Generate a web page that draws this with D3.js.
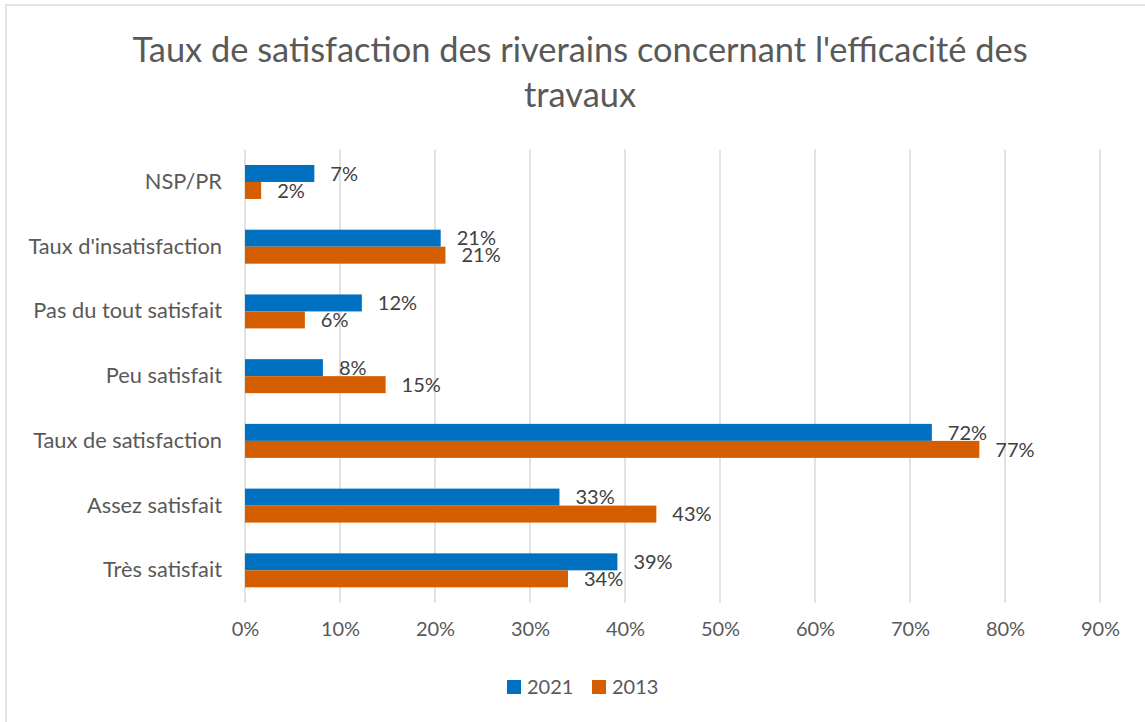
<!DOCTYPE html>
<html><head><meta charset="utf-8">
<script src="https://cdn.jsdelivr.net/npm/d3@7"></script>
<style>
html,body{margin:0;padding:0;background:#fff;}
svg{display:block;font-family:Lato,"Open Sans",sans-serif;}
</style></head>
<body>
<svg id="chart" width="1145" height="722"></svg>
<script>
const categories = ["NSP/PR","Taux d'insatisfaction","Pas du tout satisfait","Peu satisfait","Taux de satisfaction","Assez satisfait","Très satisfait"];
const series = ["2021","2013"];
const values2021 = [7.3, 20.6, 12.3, 8.2, 72.3, 33.1, 39.2];
const values2013 = [1.7, 21.1, 6.3, 14.8, 77.3, 43.3, 34.0];
const xTicks = [0,10,20,30,40,50,60,70,80,90];
const titleLines = ["Taux de satisfaction des riverains concernant l'efficacité des","travaux"];
const colors = {"2021":"#0070C0","2013":"#D55E00"};

(function(){
const svg = d3.select("#chart");
svg.append("rect").attr("x",6).attr("y",5).attr("width",1160).attr("height",740)
  .attr("fill","none").attr("stroke","#D9D9D9").attr("stroke-width",1.5);

const pLeft=245, pRight=1100, pTop=149.6, pBottom=602.7;
const x = d3.scaleLinear().domain([0,90]).range([pLeft,pRight]);
const y = d3.scaleBand().domain(categories).range([pTop,pBottom]).paddingInner(0.475).paddingOuter(0.2375);
const ySub = d3.scaleBand().domain(series).range([0,y.bandwidth()]);

svg.append("g").selectAll("line").data(xTicks).join("line")
  .attr("x1",d=>x(d)).attr("x2",d=>x(d)).attr("y1",pTop).attr("y2",pBottom)
  .attr("stroke","#D9D9D9").attr("stroke-width",1.5);

const xAxis = d3.axisBottom(x).tickValues(xTicks).tickFormat(d=>d+"%").tickSize(0).tickPadding(0);
const gx = svg.append("g").attr("transform",`translate(0,${pBottom+19})`).call(xAxis);
gx.select(".domain").remove();
gx.selectAll("text").attr("font-size",20).attr("fill","#595959").attr("font-family","Lato,sans-serif");

const yAxis = d3.axisLeft(y).tickSize(0).tickPadding(0);
const gy = svg.append("g").attr("transform",`translate(${222},0)`).call(yAxis);
gy.select(".domain").remove();
gy.selectAll("text").attr("font-size",21.8).attr("fill","#595959").attr("font-family","Lato,sans-serif");

const rows = categories.map((c,i)=>({cat:c, vals:[{s:"2021",v:values2021[i]},{s:"2013",v:values2013[i]}]}));
const g = svg.append("g").selectAll("g").data(rows).join("g")
  .attr("transform",d=>`translate(0,${y(d.cat)})`);
g.selectAll("rect").data(d=>d.vals).join("rect")
  .attr("x",x(0)).attr("y",d=>ySub(d.s)).attr("height",ySub.bandwidth())
  .attr("width",d=>x(d.v)-x(0)).attr("fill",d=>colors[d.s]);
g.selectAll("text").data(d=>d.vals).join("text")
  .attr("x",d=>x(d.v)+16).attr("y",d=>ySub(d.s)+ySub.bandwidth()/2)
  .attr("dy","0.36em").attr("font-size",20).attr("fill","#404040")
  .text(d=>Math.round(d.v)+"%");

const title = svg.append("g");
titleLines.forEach((t,i)=>{
  title.append("text").attr("x",580).attr("y",62+i*45).attr("text-anchor","middle")
    .attr("font-size",34.4).attr("fill","#595959").text(t);
});

const legend = svg.append("g").attr("transform","translate(507,680)");
const lx = [0,85];
series.forEach((s,i)=>{
  legend.append("rect").attr("x",lx[i]).attr("y",0).attr("width",14).attr("height",14).attr("fill",colors[s]);
  legend.append("text").attr("x",lx[i]+20).attr("y",7).attr("dy","0.36em")
    .attr("font-size",20).attr("fill","#595959").text(s);
});
})();
</script>
</body></html>
